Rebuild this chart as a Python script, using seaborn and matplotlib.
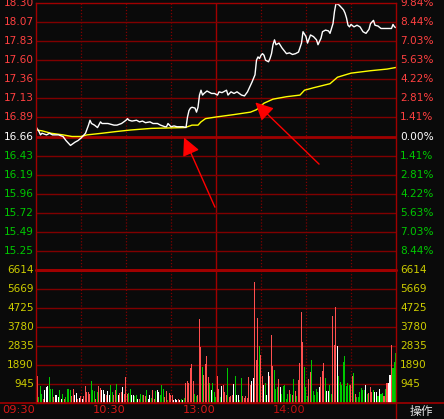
import numpy as np
import pandas as pd
import matplotlib
matplotlib.use("Agg")
import matplotlib.pyplot as plt
from matplotlib.lines import Line2D
from matplotlib.transforms import blended_transform_factory
import seaborn as sns

sns.set_theme(style="dark")
plt.rcParams['font.family'] = ['DejaVu Sans', 'Noto Sans CJK SC']

# ---------------- data ----------------
prev_close = 16.66
price_labels = ["18.30", "18.07", "17.83", "17.60", "17.36", "17.13", "16.89",
                "16.66",
                "16.43", "16.19", "15.96", "15.72", "15.49", "15.25"]
pct_labels = ["9.84%", "8.44%", "7.03%", "5.63%", "4.22%", "2.81%", "1.41%",
              "0.00%",
              "1.41%", "2.81%", "4.22%", "5.63%", "7.03%", "8.44%"]
vol_labels = ["6614", "5669", "4725", "3780", "2835", "1890", "945"]
vol_top = 6614
time_labels = ["09:30", "10:30", "13:00", "14:00"]
time_ticks = [0, 60, 120, 180]

price_min = [0, 2, 3, 4, 7, 9, 11, 15, 18, 20, 22, 23, 26, 28, 30, 31, 33, 35, 36, 37,
             39, 41, 43, 44, 48, 50, 52, 54, 57, 60, 61, 62, 64, 67, 69, 71, 73, 76, 78, 81,
             83, 86, 87, 88, 90, 92, 94, 98, 100, 101, 102, 103, 104, 106, 107, 108, 109, 110, 111, 112,
             114, 117, 119, 121, 122, 124, 127, 128, 130, 132, 134, 137, 139, 141, 142, 144, 146, 147, 148, 149,
             150, 151, 152, 153, 155, 156, 157, 158, 159, 160, 162, 164, 167, 169, 171, 173, 175, 177, 178, 180,
             181, 183, 185, 187, 188, 190, 191, 193, 195, 196, 198, 199, 200, 202, 204, 205, 206, 207, 208, 209,
             210, 212, 214, 216, 218, 220, 222, 223, 225, 226, 228, 230, 233, 235, 237, 238, 239, 240]
price_val = [16.78, 16.72, 16.68, 16.70, 16.68, 16.70, 16.68, 16.68, 16.66, 16.61, 16.57, 16.55, 16.59, 16.61, 16.64, 16.66, 16.70, 16.80, 16.86, 16.82,
             16.80, 16.77, 16.84, 16.82, 16.82, 16.81, 16.80, 16.80, 16.82, 16.86, 16.88, 16.86, 16.85, 16.86, 16.84, 16.85, 16.83, 16.84, 16.82, 16.82,
             16.80, 16.78, 16.78, 16.82, 16.78, 16.79, 16.78, 16.78, 16.77, 16.90, 16.98, 17.01, 17.02, 17.01, 16.96, 17.02, 17.17, 17.23, 17.17, 17.19,
             17.22, 17.19, 17.19, 17.17, 17.21, 17.20, 17.23, 17.17, 17.21, 17.19, 17.21, 17.17, 17.16, 17.21, 17.25, 17.33, 17.42, 17.60, 17.64, 17.62,
             17.66, 17.68, 17.66, 17.60, 17.58, 17.62, 17.68, 17.79, 17.85, 17.79, 17.81, 17.75, 17.68, 17.69, 17.67, 17.68, 17.70, 17.81, 17.95, 17.89,
             17.81, 17.91, 17.89, 17.85, 17.79, 17.87, 17.95, 17.97, 17.96, 17.93, 18.05, 18.20, 18.30, 18.28, 18.24, 18.22, 18.18, 18.12, 18.03, 18.01,
             18.04, 18.01, 18.03, 18.01, 17.95, 17.93, 17.98, 18.05, 18.09, 18.03, 18.02, 17.99, 17.99, 17.99, 17.99, 18.04, 18.01, 18.00]

avg_min = [0, 4, 10, 18, 24, 30, 34, 44, 53, 63, 77, 99, 101, 104, 108, 110, 113, 120, 132, 143,
           147, 152, 158, 167, 176, 179, 185, 196, 201, 210, 223, 234, 240]
avg_val = [16.74, 16.73, 16.70, 16.68, 16.66, 16.66, 16.68, 16.70, 16.72, 16.74, 16.76, 16.77, 16.78, 16.80, 16.80, 16.84, 16.88, 16.90, 16.93, 16.96,
           16.99, 17.07, 17.12, 17.15, 17.17, 17.23, 17.26, 17.31, 17.39, 17.44, 17.47, 17.49, 17.51]

volumes = [1340, 260, 800, 430, 180, 600, 760, 800, 1260, 680,
           680, 260, 350, 350, 260, 630, 180, 400, 180, 260,
           680, 680, 630, 300, 680, 350, 460, 180, 210, 300,
           180, 300, 800, 510, 510, 400, 1090, 630, 560, 180,
           510, 800, 730, 600, 600, 430, 350, 560, 350, 850,
           510, 350, 600, 900, 350, 460, 510, 760, 430, 1260,
           430, 460, 680, 350, 350, 300, 350, 150, 150, 430,
           380, 350, 300, 600, 180, 350, 230, 600, 180, 560,
           630, 510, 350, 850, 680, 260, 560, 100, 460, 350,
           350, 100, 180, 100, 180, 130, 180, 100, 210, 960,
           1090, 960, 1730, 1920, 1060, 400, 300, 350, 4180, 2740,
           1790, 1390, 1940, 2340, 1260, 960, 630, 960, 510,
           260, 1340, 650, 260, 800, 850, 510, 350, 1710, 260,
           300, 350, 930, 1340, 350, 350, 100, 1210, 300, 230,
           300, 230, 1290, 850, 1090, 1230, 6020, 2140, 4210, 2790,
           2390, 1340, 850, 980, 380, 1540, 1340, 3380, 1840, 1640,
           650, 760, 1180, 760, 430, 800, 850, 180, 430, 630,
           430, 350, 1180, 550, 300, 1130, 1970, 4530, 3030, 1760,
           760, 300, 1180, 1540, 2140, 550, 350, 680, 510, 760,
           1290, 1590, 1970, 1210, 550, 550, 880, 400, 4330, 2840,
           4780, 2790, 1340, 1040, 850, 2040, 2340, 800, 980, 850,
           850, 1340, 1460, 430, 250, 250, 510, 710, 630, 600,
           850, 430, 460, 760, 510, 630, 510, 510, 300, 650,
           430, 460, 300, 650, 980, 980, 1380, 2880, 1710, 2000,
           2490]
vol_kind = ("rgggrwwwgg" "grwwwgwgrg" "gggrrwwrwr" "wrrrrrgggr" "grrwwwrwwg"
            "grrgwrrwrr" "rggwwggwrg" "grrgwwgrrg" "wwgggrrgrr" "rwwwrwgwgr"
            "rrrrrggrrr" "grrrrgwgg"
            "grrgwrrrgr" "rrwgwwggrr" "rrrrwwrrrg" "rrwgwwrrrg" "ggrwgggggr"
            "grgrgrrrrg" "ggrrgggggw" "rrrgwwggrr" "rwgggggggg" "rrgrgggggg"
            "wgrrrgwwgw" "ggrgrwwrgg" "g")

arrow_heads = [(98.7, 16.647), (146.2, 17.08)]
arrow_tails = [(119.3, 15.79), (188.7, 16.32)]

# ---------------- style ----------------
BG = "#0a0a0a"
GRID = "#800000"
GRID2 = "#a00000"
RED_T = "#ff4040"
GREEN_T = "#00c800"
YEL_T = "#cccc00"
PAL = {"r": "#ff5050", "g": "#00c800", "w": "#ffffff"}

W, H = 444, 419
fig = plt.figure(figsize=(W / 100, H / 100), dpi=100, facecolor=BG)


def fx(px):
    return px / W


def fy(py):
    return 1 - py / H


y_top, y_mid, y_bot = 3.3, 269.7, 402.5
ax_p = fig.add_axes([fx(36), fy(y_mid), fx(396) - fx(36), fy(y_top) - fy(y_mid)])
ax_v = fig.add_axes([fx(36), fy(y_bot), fx(396) - fx(36), fy(y_mid) - fy(y_bot)])

step = (float(price_labels[0]) - prev_close) / 7

for ax in (ax_p, ax_v):
    ax.set_facecolor(BG)
    for s in ax.spines.values():
        s.set_color(GRID2)
        s.set_linewidth(1.0)

# price lines
sns.lineplot(x=avg_min, y=avg_val, ax=ax_p, color="#ffff00", lw=1.0,
             estimator=None, sort=False)
sns.lineplot(x=price_min, y=price_val, ax=ax_p, color="#ffffff", lw=1.0,
             estimator=None, sort=False)

# volume bars
bar_pos = np.linspace(0.7, 240.0, len(volumes))
df_v = pd.DataFrame({"t": bar_pos, "vol": volumes, "kind": list(vol_kind)})
sns.barplot(data=df_v, x="t", y="vol", hue="kind", palette=PAL, native_scale=True,
            dodge=False, saturation=1, width=0.7, legend=False, ax=ax_v,
            errorbar=None, linewidth=0)

ax_p.set_xlim(0, 240)
ax_v.set_xlim(0, 240)
ax_p.set_ylim(prev_close - 7 * step, prev_close + 7 * step)
ax_v.set_ylim(0, vol_top)

# grid
for k in range(-6, 7):
    lv = prev_close + k * step
    if k == 0:
        ax_p.axhline(lv, color=GRID2, lw=2.0, zorder=1)
    else:
        ax_p.axhline(lv, color=GRID, lw=1.0, zorder=1)
vstep = vol_top / 7
for k in range(1, 7):
    ax_v.axhline(k * vstep, color=GRID, lw=1.0, zorder=0)
ax_v.axhline(vol_top, color=GRID2, lw=2.2, zorder=3, clip_on=False)

for ax in (ax_p, ax_v):
    for m in [30, 60, 90, 150, 180, 210]:
        ax.axvline(m, color=GRID, lw=0.9, ls=(0, (1, 1.5)), zorder=0)
    ax.axvline(120, color=GRID2, lw=1.0, zorder=0)
    ax.set_xticks([])
    ax.set_yticks([])
    ax.set_xlabel("")
    ax.set_ylabel("")

# axis labels
tl = blended_transform_factory(ax_p.transAxes, ax_p.transData)
for k, (pl, cl) in enumerate(zip(price_labels, pct_labels)):
    lv = prev_close + (7 - k) * step
    col = RED_T if k < 7 else ("#ffffff" if k == 7 else GREEN_T)
    ax_p.text(-0.006, lv, pl, transform=tl, ha="right", va="center",
              color=col, fontsize=7.6, clip_on=False)
    ax_p.text(1.011, lv, cl, transform=tl, ha="left", va="center",
              color=col, fontsize=7.6, clip_on=False)

tv = blended_transform_factory(ax_v.transAxes, ax_v.transData)
for k, vl in enumerate(vol_labels):
    lv = (7 - k) * vstep
    ax_v.text(-0.006, lv, vl, transform=tv, ha="right", va="center",
              color=YEL_T, fontsize=7.6, clip_on=False)
    ax_v.text(1.011, lv, vl, transform=tv, ha="left", va="center",
              color=YEL_T, fontsize=7.6, clip_on=False)

tt = blended_transform_factory(ax_v.transData, ax_v.transAxes)
for i, (t, lab) in enumerate(zip(time_ticks, time_labels)):
    ax_v.text(t - 0.5, -0.058, lab, transform=tt, ha="right", va="center",
              color="#d81818" if i < 3 else "#c01010", fontsize=8.2, clip_on=False)

# frame lines in the footer
fig.add_artist(Line2D([0, 1], [fy(y_bot), fy(y_bot)], color=GRID2, lw=1.2,
                      transform=fig.transFigure))
fig.add_artist(Line2D([fx(396), fx(396)], [0, fy(y_bot)], color=GRID2, lw=1.0,
                      transform=fig.transFigure))
fig.text(fx(421), fy(411), "操作", color="#e6e6e6", fontsize=8.5,
         family=["Noto Sans CJK SC", "DejaVu Sans"], ha="center", va="center")

# annotation arrows
for head, tail in zip(arrow_heads, arrow_tails):
    ax_p.annotate("", xy=head, xytext=tail,
                  arrowprops=dict(arrowstyle="-|>,head_length=0.9,head_width=0.45",
                                  color="#ff0000", lw=1.0, shrinkA=0, shrinkB=0),
                  annotation_clip=False)

fig.savefig("out.png", dpi=100, facecolor=BG)
